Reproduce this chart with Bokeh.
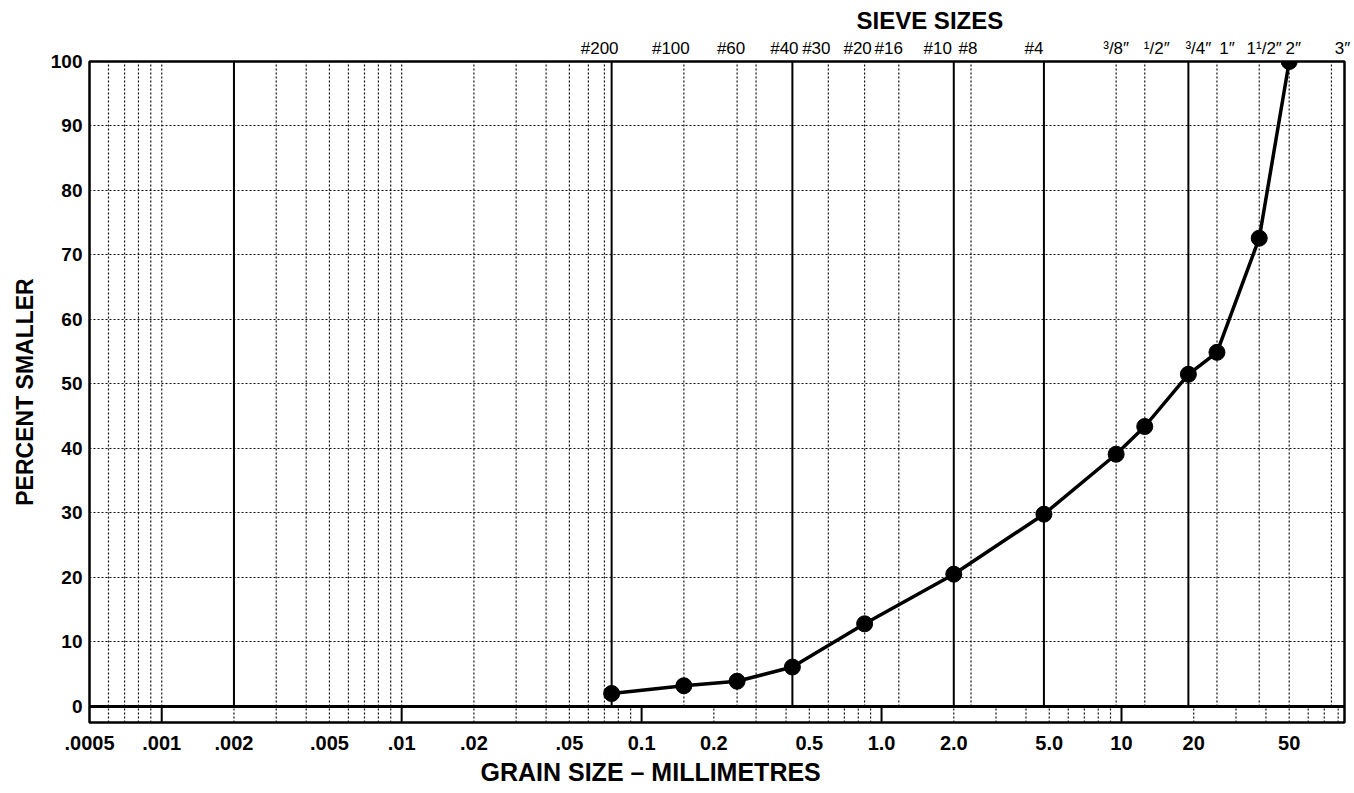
import math
from bokeh.plotting import figure
from bokeh.models import FixedTicker, LogAxis, Title, Span
from bokeh.embed import file_html
from bokeh.resources import INLINE

# ---- data ----
sample_size_mm = [0.075, 0.15, 0.25, 0.425, 0.85, 2.0, 4.75, 9.5, 12.5, 19.0, 25.0, 37.5, 50.0]
percent_smaller = [2.0, 3.2, 3.9, 6.1, 12.8, 20.5, 29.8, 39.1, 43.4, 51.5, 54.9, 72.6, 100.0]

sieve_tick_mm = [0.075, 0.15, 0.25, 0.425, 0.6, 0.85, 1.18, 2.0, 2.36, 4.75,
                 9.5, 12.5, 19.0, 25.0, 37.5, 50.0, 75.0]
sieve_tick_labels = ["#200", "#100", "#60", "#40", "#30", "#20", "#16", "#10", "#8", "#4",
                     "³/8″", "¹/2″", "³/4″", "1″", "1¹/2″", "2″", "3″"]
# small horizontal nudges (px) of the printed sieve labels relative to their lines
sieve_label_nudge_px = [-12, -13, -6, -8, -12, -7, -10, -16, -3, -10,
                        0, 12, 10, 10, 5, 4, 11]

grain_tick_mm = [0.0005, 0.001, 0.002, 0.005, 0.01, 0.02, 0.05, 0.1, 0.2, 0.5,
                 1.0, 2.0, 5.0, 10.0, 20.0, 50.0]
grain_tick_labels = [".0005", ".001", ".002", ".005", ".01", ".02", ".05", "0.1", "0.2", "0.5",
                     "1.0", "2.0", "5.0", "10", "20", "50"]

percent_ticks = [0, 10, 20, 30, 40, 50, 60, 70, 80, 90, 100]

# chart grid structure
upper_solid_mm = [0.002, 0.075, 0.425, 2.0, 4.75, 19.0]
upper_dotted_mm = [0.0006, 0.0007, 0.0008, 0.0009, 0.001,
                   0.003, 0.004, 0.005, 0.006, 0.007, 0.008, 0.009, 0.01,
                   0.02, 0.03, 0.04, 0.05, 0.06, 0.07,
                   0.15, 0.25, 0.3, 0.6, 0.85, 1.18, 2.36, 9.5, 12.5, 25.0, 37.5, 50.0, 75.0]
strip_solid_mm = [0.001, 0.01, 0.1, 1.0, 10.0]
strip_dotted_mm = [0.0006, 0.0007, 0.0008, 0.0009] + [
    m * 10.0 ** e for e in range(-3, 2) for m in range(2, 10) if m * 10.0 ** e < 85]

X_MIN, X_MAX = 0.0005, 85.0
Y_MIN, Y_MAX = -2.5, 100.0
FONT = "Liberation Sans"
W, H = 1352, 792
BORDER_L, BORDER_R, BORDER_T, BORDER_B = 89, 8, 61, 70
PX_PER_DECADE = (W - BORDER_L - BORDER_R) / math.log10(X_MAX / X_MIN)

p = figure(width=W, height=H, x_axis_type="log",
           x_range=(X_MIN, X_MAX), y_range=(Y_MIN, Y_MAX),
           output_backend="svg", toolbar_location=None,
           min_border_left=BORDER_L, min_border_right=BORDER_R,
           min_border_top=BORDER_T, min_border_bottom=BORDER_B,
           background_fill_color="white", border_fill_color="white",
           outline_line_color="black", outline_line_width=2.5)

# grids
p.xgrid.visible = False
p.ygrid.ticker = FixedTicker(ticks=percent_ticks[1:-1])
p.ygrid.grid_line_color = "#111111"
p.ygrid.grid_line_dash = "2 2"
p.ygrid.grid_line_width = 1

n = len(upper_dotted_mm)
p.segment(x0=upper_dotted_mm, y0=[0] * n, x1=upper_dotted_mm, y1=[Y_MAX] * n,
          line_color="#111111", line_width=1.2, line_dash="2 2")
n = len(upper_solid_mm)
p.segment(x0=upper_solid_mm, y0=[0] * n, x1=upper_solid_mm, y1=[Y_MAX] * n,
          line_color="black", line_width=2)
n = len(strip_dotted_mm)
p.segment(x0=strip_dotted_mm, y0=[Y_MIN] * n, x1=strip_dotted_mm, y1=[0] * n,
          line_color="#111111", line_width=1.2, line_dash="2 2")
n = len(strip_solid_mm)
p.segment(x0=strip_solid_mm, y0=[Y_MIN] * n, x1=strip_solid_mm, y1=[0] * n,
          line_color="black", line_width=2)

p.add_layout(Span(location=0, dimension="width", line_color="black", line_width=3))

# data curve
p.line(sample_size_mm, percent_smaller, line_color="black", line_width=3.5)
p.scatter(sample_size_mm, percent_smaller, size=16, color="black")

# bottom axis
xa = p.xaxis[0]
xa.ticker = FixedTicker(ticks=grain_tick_mm)
xa.major_label_overrides = dict(zip(grain_tick_mm, grain_tick_labels))
xa.major_tick_out = 0
xa.major_tick_in = 0
xa.minor_tick_out = 0
xa.minor_tick_in = 0
xa.axis_line_color = None
xa.major_label_standoff = 13
xa.major_label_text_font = FONT
xa.major_label_text_font_style = "bold"
xa.major_label_text_font_size = "20px"
xa.major_label_text_color = "black"

# left axis
ya = p.yaxis[0]
ya.ticker = FixedTicker(ticks=percent_ticks)
ya.major_tick_out = 0
ya.major_tick_in = 0
ya.minor_tick_out = 0
ya.minor_tick_in = 0
ya.axis_line_color = None
ya.major_label_standoff = 7
ya.major_label_text_font = FONT
ya.major_label_text_font_style = "bold"
ya.major_label_text_font_size = "19px"
ya.major_label_text_color = "black"
ya.axis_label = "PERCENT SMALLER"
ya.axis_label_standoff = 10
ya.axis_label_text_font = FONT
ya.axis_label_text_font_style = "bold"
ya.axis_label_text_font_size = "23px"
ya.axis_label_text_color = "black"

# top (sieve) axis: label anchors nudged a few pixels as printed
sieve_label_anchor = [s * 10 ** (d / PX_PER_DECADE)
                      for s, d in zip(sieve_tick_mm, sieve_label_nudge_px)]
ta = LogAxis(ticker=FixedTicker(ticks=sieve_label_anchor),
             major_label_overrides=dict(zip(sieve_label_anchor, sieve_tick_labels)),
             major_tick_out=0, major_tick_in=0, minor_tick_out=0, minor_tick_in=0,
             axis_line_color=None, major_label_standoff=4,
             major_label_text_font=FONT, major_label_text_font_size="17px",
             major_label_text_color="black")
p.add_layout(ta, "above")

p.add_layout(Title(text="SIEVE SIZES", align="left", offset=767, standoff=4,
                   text_font=FONT, text_font_style="bold", text_font_size="24px",
                   text_color="black"), "above")
p.add_layout(Title(text="GRAIN SIZE – MILLIMETRES", align="left", offset=391, standoff=7,
                   text_font=FONT, text_font_style="bold", text_font_size="25px",
                   text_color="black"), "below")

open("out.html", "w").write(file_html(p, INLINE))
